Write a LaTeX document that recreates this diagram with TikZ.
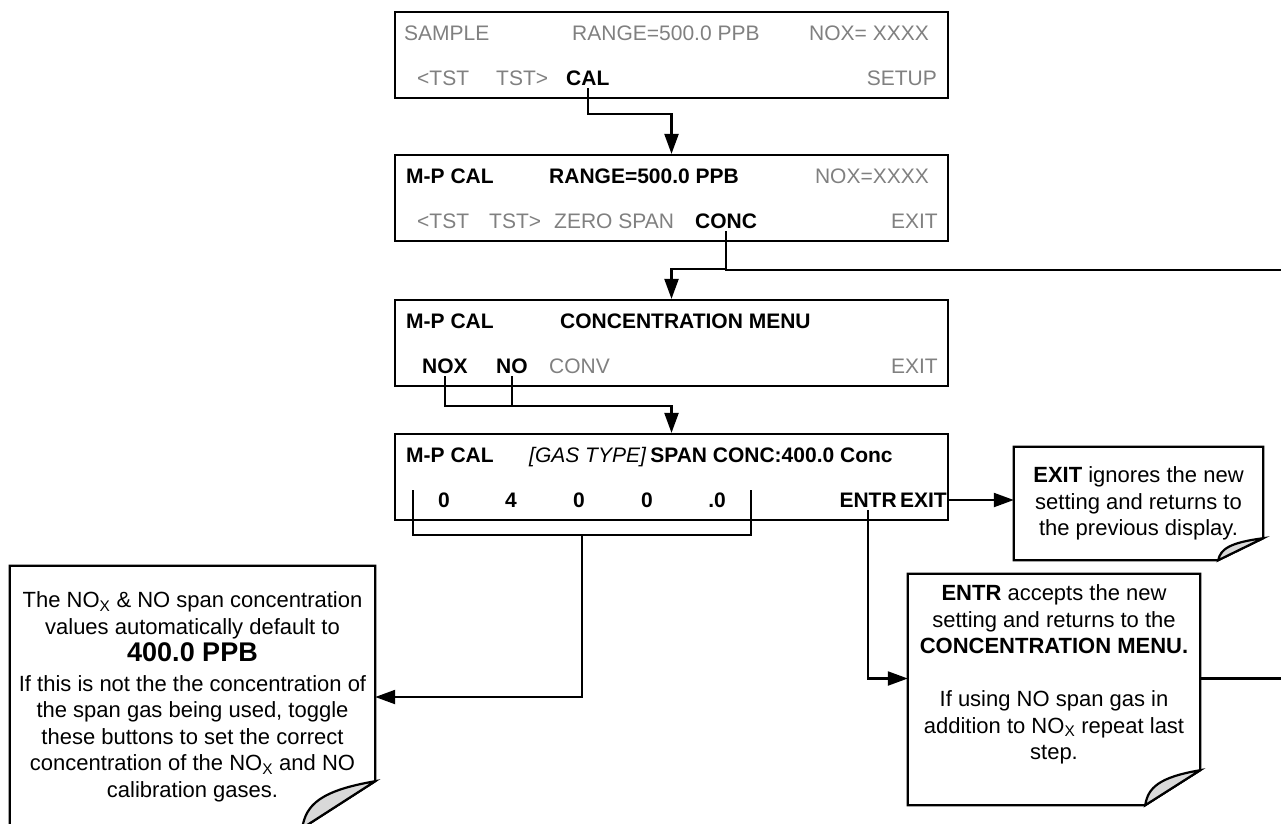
\documentclass[tikz,border=0pt]{standalone}
\usepackage{fontspec}
\setmainfont{Liberation Sans}
\usetikzlibrary{arrows.meta, positioning, calc}
\definecolor{cOff}{RGB}{128,128,128}
\definecolor{cCurl}{RGB}{217,217,217}

\begin{document}
\begin{tikzpicture}[x=1pt, y=-1pt,
    lcd/.style={draw, line width=2.2pt, minimum width=553pt, minimum height=86pt, inner sep=0pt},
    keyoff/.style={font=\fontsize{21}{25}\selectfont, text=cOff, inner sep=2pt, text height=15pt, text depth=1pt},
    keyon/.style={keyoff, text=black, font=\fontsize{21}{25}\selectfont\bfseries},
    notetext/.style={font=\fontsize{22}{26.5}\selectfont, align=center, inner sep=0pt},
    wire/.style={line width=2.2pt},
    arr/.style={wire, -{Triangle[length=20pt, width=14pt]}}]
\clip (0,0) rectangle (1281,823);

\node[lcd] (scrSample) at (671.5,55) {};
\node[lcd] (scrCal) at (671.5,198) {};
\node[lcd] (scrConc) at (671.5,343) {};
\node[lcd] (scrSpan) at (671.5,477) {};

\node[keyoff, anchor=west] (sSample) at (402,33) {SAMPLE};
\node[keyoff, anchor=west] (sRange) at (570,33) {RANGE=500.0 PPB};
\node[keyoff, anchor=east] (sNox) at (931,33) {NOX= XXXX};
\node[keyoff, anchor=west] (sTstL) at (415,78) {<TST};
\node[keyoff, anchor=west] (sTstR) at (494,78) {TST>};
\node[keyon, anchor=west] (kCal) at (564,78) {CAL};
\node[keyoff, anchor=east] (sSetup) at (939,78) {SETUP};

\node[keyon, anchor=west] (cMode) at (404,176) {M-P CAL};
\node[keyon, anchor=west] (cRange) at (547,176) {RANGE=500.0 PPB};
\node[keyoff, anchor=east] (cNox) at (931,176) {NOX=XXXX};
\node[keyoff, anchor=west] (cTstL) at (415,221) {<TST};
\node[keyoff, anchor=west] (cTstR) at (487,221) {TST>};
\node[keyoff, anchor=west] (cZero) at (552,221) {ZERO SPAN};
\node[keyon, anchor=west] (kConc) at (693,221) {CONC};
\node[keyoff, anchor=east] (cExit) at (940,221) {EXIT};

\node[keyon, anchor=west] (mMode) at (404,321) {M-P CAL};
\node[keyon, anchor=west] (mTitle) at (558,321) {CONCENTRATION MENU};
\node[keyon, anchor=west] (kNox) at (420,366) {NOX};
\node[keyon, anchor=west] (kNo) at (494,366) {NO};
\node[keyoff, anchor=west] (mConv) at (547,366) {CONV};
\node[keyoff, anchor=east] (mExit) at (940,366) {EXIT};

\node[keyon, anchor=west] (pMode) at (404,455) {M-P CAL};
\node[keyoff, anchor=west, text=black, font=\fontsize{21}{25}\selectfont\itshape] (pGas) at (527,455) {[GAS TYPE]};
\node[keyon, anchor=west] (pTitle) at (pGas.east) {SPAN CONC:400.0 Conc};
\foreach \x/\d [count=\i] in {444/0, 511/4, 579/0, 647/0, 717/.0}
    \node[keyon] (d\i) at (\x,500) {\d};
\node[keyon, anchor=east] (kExit) at (949,500) {EXIT};
\node[keyon, anchor=east, inner xsep=1pt] (kEntr) at (kExit.west) {ENTR};
\coordinate (brL) at (413,490);
\coordinate (brR) at (751,490);

\node[notetext, minimum width=249pt, minimum height=113pt] (noteExit) at (1138.5,503.5)
    {\textbf{EXIT} ignores the new\\setting and returns to\\the previous display.};
\node[notetext, minimum width=292pt, minimum height=231pt] (noteEntr) at (1054,689.5) {};
\node[notetext] (noteEntrTxt) at (1054,674.5)
    {\textbf{ENTR} accepts the new\\setting and returns to the\\\textbf{CONCENTRATION MENU.}\\[26.5pt]If using NO span gas in\\addition to NO\textsubscript{X} repeat last\\step.};
\node[notetext, minimum width=365pt, minimum height=262pt] (noteDefault) at (192.5,697)
    {The NO\textsubscript{X} \& NO span concentration\\values automatically default to\\[1pt]{\fontsize{27}{30}\selectfont\bfseries 400.0 PPB}\\[3pt]If this is not the the concentration of\\the span gas being used, toggle\\these buttons to set the correct\\concentration of the NO\textsubscript{X} and NO\\calibration gases.};
\foreach \n/\dx/\dy in {noteExit/45/22, noteEntr/55/35, noteDefault/73/47} {
    \draw[wire] (\n.north west) -- (\n.north east) -- ($(\n.south east)+(0,-\dy)$)
        -- ($(\n.south east)+(-\dx,0)$) -- (\n.south west) -- cycle;
    \filldraw[wire, fill=cCurl] ($(\n.south east)+(0,-\dy)$)
        .. controls ($(\n.south east)+(-0.75*\dx,-0.8*\dy)$) and ($(\n.south east)+(-0.95*\dx,-0.5*\dy)$)
        .. ($(\n.south east)+(-\dx,0)$) -- cycle;
}
\coordinate (eastA) at (1290,270);
\coordinate (eastB) at (1290,678.5);

\draw[arr] (kCal.south) |- ([yshift=40pt]scrCal.north) -- (scrCal.north);
\draw[arr] (kConc.south) |- ([yshift=30pt]scrConc.north) -- (scrConc.north);
\draw[wire] (kConc.south) |- (eastA);
\draw[arr] (kNox.south) |- ([yshift=27pt]scrSpan.north) -- (scrSpan.north);
\draw[wire] (kNo.south) -- ([yshift=27pt]scrSpan.north -| kNo.south);
\draw[wire] (brL) -- ++(0,45) -| (brR);
\draw[arr] ($(brL)!0.5!(brR)+(0,45)$) |- (noteDefault.east);
\draw[arr] (kExit.east) -- (kExit.east -| noteExit.west);
\draw[arr] (kEntr.south) |- ([yshift=11pt]noteEntr.west);
\draw[wire] ([yshift=11pt]noteEntr.east) -- (eastB);
\end{tikzpicture}
\end{document}
